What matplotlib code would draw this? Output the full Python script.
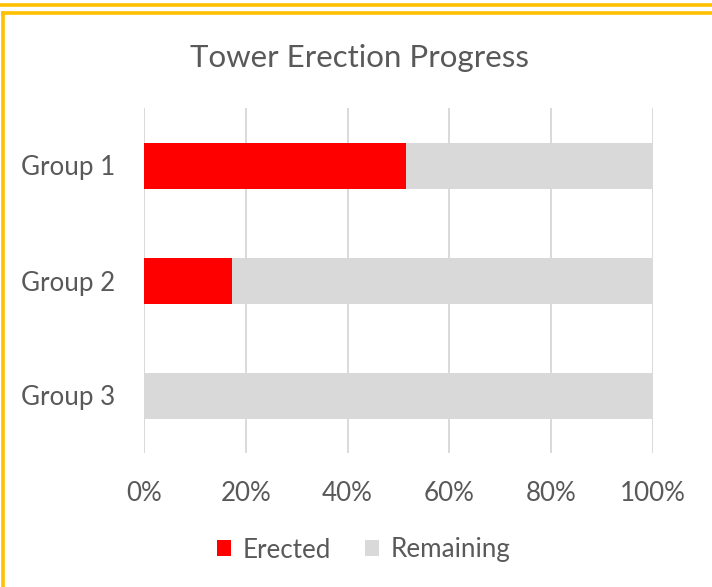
import matplotlib
matplotlib.use("Agg")
import matplotlib.pyplot as plt
from matplotlib.lines import Line2D

groups = ["Group 1", "Group 2", "Group 3"]
erected = [51.5, 17.2, 0.0]
remaining = [100 - v for v in erected]
x_ticks = [0, 20, 40, 60, 80, 100]
x_labels = ["0%", "20%", "40%", "60%", "80%", "100%"]

plt.rcParams["font.family"] = ["Lato", "DejaVu Sans"]
text_grey = "#595959"
gold = "#FFC000"

fig = plt.figure(figsize=(7.12, 5.87), dpi=100)
ax = fig.add_axes([144 / 712, 1 - 453 / 587, 509 / 712, 345 / 587])

ax.barh(groups, erected, height=0.4, color="#FF0000", label="Erected", zorder=3)
ax.barh(groups, remaining, left=erected, height=0.4, color="#D9D9D9",
        label="Remaining", zorder=3)

ax.set_xlim(0, 100)
ax.set_ylim(2.5, -0.5)
ax.set_xticks(x_ticks)
ax.set_xticklabels(x_labels)
ax.grid(axis="x", color="#D9D9D9", linewidth=1.4, zorder=0)
ax.tick_params(length=0, labelsize=18.7, colors=text_grey)
ax.tick_params(axis="x", pad=20)
ax.tick_params(axis="y", pad=21)
for s in ax.spines.values():
    s.set_visible(False)

fig.text(359 / 712, 1 - 58 / 587, "Tower Erection Progress", ha="center",
         va="center", fontsize=22.5, color=text_grey)

fig.legend(loc="center", bbox_to_anchor=(364 / 712, 1 - 550 / 587), ncol=2,
           frameon=False, fontsize=18.7, labelcolor=text_grey, handlelength=0.55,
           handleheight=0.55, columnspacing=1.3, handletextpad=0.45)

# gold chart borders (cropped Excel frames)
fig.add_artist(Line2D([0, 1], [1 - 5 / 587] * 2, color=gold, linewidth=2.6,
                      transform=fig.transFigure))
fig.add_artist(Line2D([3.4 / 712, 1], [1 - 13 / 587] * 2, color=gold,
                      linewidth=2.6, transform=fig.transFigure))
fig.add_artist(Line2D([3.4 / 712] * 2, [1 - 13 / 587, 0], color=gold,
                      linewidth=2.6, transform=fig.transFigure))

fig.savefig("out.png", dpi=100)
